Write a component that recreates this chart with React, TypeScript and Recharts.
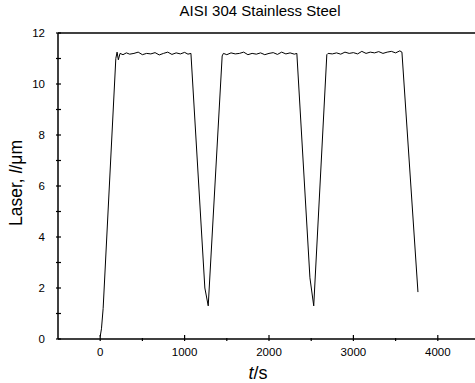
import { LineChart, Line, XAxis, YAxis, ReferenceLine } from "recharts"

const times = [
  0, 15, 35, 185, 200, 215, 235, 270, 310, 350, 400, 450, 500, 550, 600, 650, 700, 750, 800, 850, 900, 950, 1000, 1040, 1075,
  1240, 1280,
  1445, 1460, 1500, 1550, 1600, 1650, 1700, 1750, 1800, 1850, 1900, 1950, 2000, 2050, 2100, 2150, 2200, 2250, 2300, 2330,
  2485, 2530,
  2685, 2700, 2750, 2800, 2850, 2900, 2950, 3000, 3050, 3100, 3150, 3200, 3250, 3300, 3350, 3400, 3450, 3500, 3550, 3575,
  3765,
]

const laser = [
  0.1, 0.4, 1.2, 11.0, 11.25, 10.95, 11.2, 11.15, 11.22, 11.17, 11.2, 11.25, 11.15, 11.2, 11.18, 11.23, 11.14, 11.2, 11.25, 11.16, 11.22, 11.18, 11.24, 11.17, 11.2,
  2.0, 1.3,
  11.1, 11.2, 11.15, 11.22, 11.18, 11.2, 11.25, 11.15, 11.2, 11.17, 11.22, 11.15, 11.2, 11.23, 11.16, 11.25, 11.18, 11.22, 11.17, 11.2,
  2.4, 1.3,
  11.15, 11.2, 11.18, 11.22, 11.17, 11.25, 11.2, 11.23, 11.18, 11.28, 11.2, 11.25, 11.22, 11.27, 11.2, 11.25, 11.28, 11.22, 11.3, 11.25,
  1.84,
]

const xTicks = [0, 500, 1000, 1500, 2000, 2500, 3000, 3500, 4000, 4500]
const yTicks = [0, 1, 2, 3, 4, 5, 6, 7, 8, 9, 10, 11, 12]

const data = times.map((t, i) => ({ t, v: laser[i] }))

const font = "'Liberation Sans', Arial, sans-serif"

function XTick({ x, y, payload }: any) {
  const major = payload.value % 1000 === 0
  return (
    <g>
      <line x1={x} x2={x} y1={y} y2={y - (major ? 6 : 3)} stroke="#000" strokeWidth={1.2} />
      {major && (
        <text x={x} y={y + 15} textAnchor="middle" fontSize={11.5} fontFamily={font} fill="#000">
          {payload.value}
        </text>
      )}
    </g>
  )
}

function YTick({ x, y, payload }: any) {
  const major = payload.value % 2 === 0
  return (
    <g>
      <line x1={x} x2={x + 5} y1={y} y2={y} stroke="#000" strokeWidth={1.2} />
      {major && (
        <text x={x - 11} y={y + 4} textAnchor="end" fontSize={11.5} fontFamily={font} fill="#000">
          {payload.value}
        </text>
      )}
    </g>
  )
}

export default function App() {
  return (
    <div style={{ position: "absolute", left: 0, top: 0, width: 475, height: 383, overflow: "hidden", background: "#fff" }}>
      <div
        style={{
          position: "absolute",
          left: 0,
          top: 2,
          width: 520,
          textAlign: "center",
          fontFamily: font,
          fontSize: 15,
          color: "#000",
        }}
      >
        AISI 304 Stainless Steel
      </div>
      <LineChart width={500} height={383} data={data} margin={{ top: 33, right: 20, left: 0, bottom: 0 }}>
        <XAxis
          dataKey="t"
          type="number"
          domain={[-500, 4500]}
          ticks={xTicks}
          tick={<XTick />}
          tickLine={false}
          tickSize={0}
          height={44}
          stroke="#000"
          strokeWidth={1.5}
          allowDataOverflow
          label={({ viewBox }: any) => (
            <text
              x={viewBox.x + viewBox.width / 2 - 11}
              y={viewBox.y + 40}
              textAnchor="middle"
              fontSize={18}
              fontFamily={font}
              fill="#000"
            >
              <tspan fontStyle="italic">t</tspan>/s
            </text>
          )}
        />
        <YAxis
          type="number"
          domain={[0, 12]}
          ticks={yTicks}
          tick={<YTick />}
          tickLine={false}
          tickSize={0}
          width={58}
          stroke="#000"
          strokeWidth={1.5}
          label={({ viewBox }: any) => (
            <text
              x={22}
              y={viewBox.y + viewBox.height / 2 - 3}
              textAnchor="middle"
              fontSize={17.5}
              fontFamily={font}
              fill="#000"
              transform={`rotate(-90 22 ${viewBox.y + viewBox.height / 2 - 3})`}
            >
              Laser, <tspan fontStyle="italic">l</tspan>/μm
            </text>
          )}
        />
        <ReferenceLine y={12} stroke="#000" strokeWidth={1.5} />
        <Line
          type="linear"
          dataKey="v"
          stroke="#000"
          strokeWidth={1}
          dot={false}
          isAnimationActive={false}
        />
      </LineChart>
    </div>
  )
}
